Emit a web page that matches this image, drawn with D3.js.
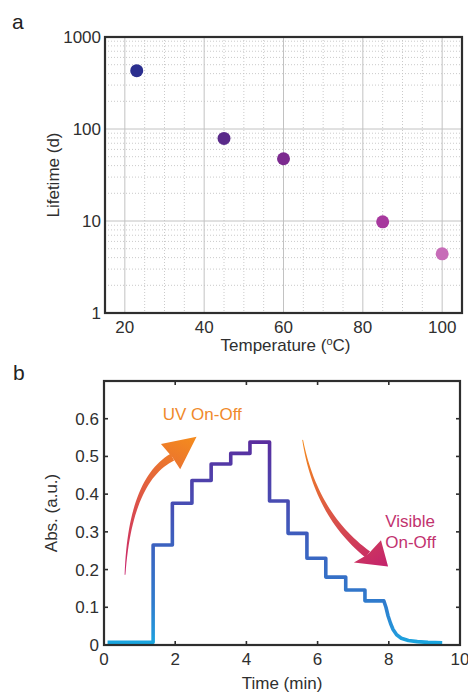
<!DOCTYPE html>
<html>
<head>
<meta charset="utf-8">
<script src="https://cdn.jsdelivr.net/npm/d3@7"></script>
<style>
  body { margin: 0; background: #fff; }
  svg { display: block; font-family: "Liberation Sans", Arial, sans-serif; }
</style>
</head>
<body>
<svg id="chart" width="468" height="694"></svg>
<script>
// panel a : lifetime vs temperature
const temps = [23, 45, 60, 85, 100];
const lifetimes = [430, 79, 47.5, 9.8, 4.4];
const dotColors = ["#2b2f8f", "#5a2a8a", "#7c2a8f", "#a7389e", "#c76cb8"];
const xTicksA = [20, 40, 60, 80, 100];
const yTicksA = [1, 10, 100, 1000];

// panel b : absorbance vs time
const timeMin = [0.1, 1.38, 1.38, 1.92, 1.92, 2.47, 2.47, 3.01, 3.01, 3.56, 3.56, 4.10, 4.10, 4.65,
  4.65, 5.17, 5.17, 5.70, 5.70, 6.23, 6.23, 6.79, 6.79, 7.33, 7.33, 7.86,
  7.92, 7.98, 8.05, 8.12, 8.22, 8.35, 8.55, 8.8, 9.1, 9.5];
const absorbance = [0.007, 0.007, 0.265, 0.265, 0.376, 0.376, 0.436, 0.436, 0.480, 0.480, 0.508, 0.508, 0.538, 0.538,
  0.382, 0.382, 0.296, 0.296, 0.230, 0.230, 0.180, 0.180, 0.146, 0.146, 0.117, 0.117,
  0.100, 0.077, 0.057, 0.041, 0.027, 0.018, 0.012, 0.009, 0.007, 0.006];
const xTicksB = [0, 2, 4, 6, 8, 10];
const yTicksB = [0, 0.1, 0.2, 0.3, 0.4, 0.5, 0.6];

const svg = d3.select("#chart");
const txt = "#2f2f2f";
const fs = 17;

// ---------- panel a ----------
const xA = d3.scaleLinear().domain([15, 105]).range([105, 462]);
const yA = d3.scaleLog().domain([1, 1000]).range([313, 37]);
const gA = svg.append("g");

// minor grid
const minorX = d3.range(25, 105, 5).filter(v => v % 20 !== 0);
const minorY = [];
[1, 10, 100].forEach(d => { for (let k = 2; k <= 9; k++) minorY.push(d * k); });
gA.selectAll(".mx").data(minorX).enter().append("line")
  .attr("x1", d => xA(d)).attr("x2", d => xA(d)).attr("y1", 37).attr("y2", 313)
  .attr("stroke", "#c4c4c4").attr("stroke-dasharray", "1,2").attr("stroke-width", 0.9);
gA.selectAll(".my").data(minorY).enter().append("line")
  .attr("x1", 105).attr("x2", 462).attr("y1", d => yA(d)).attr("y2", d => yA(d))
  .attr("stroke", "#c4c4c4").attr("stroke-dasharray", "1,2").attr("stroke-width", 0.9);
// major grid
gA.selectAll(".gx").data(xTicksA).enter().append("line")
  .attr("x1", d => xA(d)).attr("x2", d => xA(d)).attr("y1", 37).attr("y2", 313)
  .attr("stroke", "#c2c2c2").attr("stroke-width", 1);
gA.selectAll(".gy").data(yTicksA).enter().append("line")
  .attr("x1", 105).attr("x2", 462).attr("y1", d => yA(d)).attr("y2", d => yA(d))
  .attr("stroke", "#c2c2c2").attr("stroke-width", 1);

// points
gA.selectAll("circle").data(temps).enter().append("circle")
  .attr("cx", d => xA(d)).attr("cy", (d, i) => yA(lifetimes[i]))
  .attr("r", 6.5).attr("fill", (d, i) => dotColors[i]);

gA.append("rect").attr("x", 105).attr("y", 37).attr("width", 357).attr("height", 276)
  .attr("fill", "none").attr("stroke", "#2e2e2e").attr("stroke-width", 2.2);

// tick labels
gA.selectAll(".tx").data(xTicksA).enter().append("text")
  .attr("x", d => xA(d)).attr("y", 333).attr("text-anchor", "middle")
  .attr("font-size", fs).attr("fill", txt).text(d => d);
gA.selectAll(".ty").data(yTicksA).enter().append("text")
  .attr("x", 101).attr("y", d => yA(d) + 6).attr("text-anchor", "end")
  .attr("font-size", fs).attr("fill", txt).text(d => d);

const tl = gA.append("text").attr("x", xA(60) + 2).attr("y", 351).attr("text-anchor", "middle")
  .attr("font-size", fs).attr("fill", txt);
tl.append("tspan").text("Temperature (");
tl.append("tspan").attr("font-size", 11).attr("dy", -6).text("o");
tl.append("tspan").attr("dy", 6).text("C)");
gA.append("text").attr("transform", "translate(59," + ((37 + 313) / 2) + ") rotate(-90)")
  .attr("text-anchor", "middle").attr("font-size", fs).attr("fill", txt).text("Lifetime (d)");
svg.append("text").attr("x", 12).attr("y", 29).attr("font-size", 21).attr("fill", "#222").text("a");

// ---------- panel b ----------
const xB = d3.scaleLinear().domain([0, 10]).range([104, 460]);
const yB = d3.scaleLinear().domain([0, 0.7]).range([645, 381]);
const gB = svg.append("g");
const defs = svg.append("defs");

const lg = defs.append("linearGradient").attr("id", "lineGrad")
  .attr("gradientUnits", "userSpaceOnUse")
  .attr("x1", 0).attr("x2", 0).attr("y1", yB(0)).attr("y2", yB(0.55));
[["0", "#17a9e0"], ["0.06", "#2496da"], ["0.2", "#2f7ccd"], ["0.55", "#3f5bbc"], ["1", "#5b2b9d"]]
  .forEach(s => lg.append("stop").attr("offset", s[0]).attr("stop-color", s[1]));

function arrowGrad(id, c0, c1, p0, p1) {
  const g = defs.append("linearGradient").attr("id", id).attr("gradientUnits", "userSpaceOnUse")
    .attr("x1", p0[0]).attr("y1", p0[1]).attr("x2", p1[0]).attr("y2", p1[1]);
  g.append("stop").attr("offset", 0).attr("stop-color", c0);
  g.append("stop").attr("offset", 1).attr("stop-color", c1);
}

// ticks (inward, all sides)
const tk = 4;
const innerX = xTicksB.filter(v => v > 0 && v < 10);
const innerY = yTicksB.filter(v => v > 0);
innerX.forEach(v => {
  gB.append("line").attr("x1", xB(v)).attr("x2", xB(v)).attr("y1", 645).attr("y2", 645 - tk).attr("stroke", "#2e2e2e").attr("stroke-width", 1.6);
  gB.append("line").attr("x1", xB(v)).attr("x2", xB(v)).attr("y1", 381).attr("y2", 381 + tk).attr("stroke", "#2e2e2e").attr("stroke-width", 1.6);
});
innerY.forEach(v => {
  gB.append("line").attr("x1", 104).attr("x2", 104 + tk).attr("y1", yB(v)).attr("y2", yB(v)).attr("stroke", "#2e2e2e").attr("stroke-width", 1.6);
  gB.append("line").attr("x1", 460).attr("x2", 460 - tk).attr("y1", yB(v)).attr("y2", yB(v)).attr("stroke", "#2e2e2e").attr("stroke-width", 1.6);
});

// curve
const pts = timeMin.map((t, i) => [t, absorbance[i]]);
const line = d3.line().x(d => xB(d[0])).y(d => yB(d[1]));
gB.append("path").attr("d", line(pts)).attr("fill", "none")
  .attr("stroke", "url(#lineGrad)").attr("stroke-width", 3.6)
  .attr("stroke-linejoin", "round").attr("stroke-linecap", "butt");

// curved annotation arrows (anchors in data units)
function arrow(id, tail, ctrl, notch, tip, barbA, barbB, w0, w1) {
  const P = p => [xB(p[0]), yB(p[1])];
  const a = P(tail), c = P(ctrl), n = P(notch);
  const left = [], right = [];
  const N = 30;
  for (let i = 0; i <= N; i++) {
    const t = i / N, u = 1 - t;
    const x = u * u * a[0] + 2 * u * t * c[0] + t * t * n[0];
    const y = u * u * a[1] + 2 * u * t * c[1] + t * t * n[1];
    const dx = 2 * u * (c[0] - a[0]) + 2 * t * (n[0] - c[0]);
    const dy = 2 * u * (c[1] - a[1]) + 2 * t * (n[1] - c[1]);
    const L = Math.hypot(dx, dy);
    const w = w0 + (w1 - w0) * t;
    left.push([x - dy / L * w, y + dx / L * w]);
    right.push([x + dy / L * w, y - dx / L * w]);
  }
  const shaft = left.concat(right.reverse());
  gB.append("path").attr("d", "M" + shaft.map(p => p.join(",")).join("L") + "Z")
    .attr("fill", "url(#" + id + ")");
  const h = [P(tip), P(barbA), n, P(barbB)];
  gB.append("path").attr("d", "M" + h.map(p => p.join(",")).join("L") + "Z")
    .attr("fill", "url(#" + id + ")");
}

arrowGrad("uvGrad", "#c8246c", "#f48a1e", [xB(0.59), yB(0.19)], [xB(2.4), yB(0.55)]);
arrow("uvGrad", [0.59, 0.186], [0.73, 0.438], [1.92, 0.498], [2.6, 0.552], [1.6, 0.533], [2.14, 0.466], 0.4, 3.8);

arrowGrad("visGrad", "#f48a1e", "#c4246c", [xB(5.6), yB(0.54)], [xB(7.9), yB(0.21)]);
arrow("visGrad", [5.58, 0.544], [5.95, 0.345], [7.41, 0.240], [7.98, 0.208], [7.02, 0.219], [7.78, 0.278], 0.4, 3.8);

gB.append("text").attr("x", xB(1.65)).attr("y", 420).attr("font-size", fs)
  .attr("fill", "#f08a2c").text("UV On-Off");
gB.append("text").attr("x", xB(7.9)).attr("y", 527).attr("font-size", fs)
  .attr("fill", "#c2336f").text("Visible");
gB.append("text").attr("x", xB(7.9)).attr("y", 548).attr("font-size", fs)
  .attr("fill", "#c2336f").text("On-Off");

gB.append("rect").attr("x", 104).attr("y", 381).attr("width", 356).attr("height", 264)
  .attr("fill", "none").attr("stroke", "#2e2e2e").attr("stroke-width", 2.2);

gB.selectAll(".tx").data(xTicksB).enter().append("text")
  .attr("x", d => xB(d)).attr("y", 665).attr("text-anchor", "middle")
  .attr("font-size", fs).attr("fill", txt).text(d => d);
gB.selectAll(".ty").data(yTicksB).enter().append("text")
  .attr("x", 99).attr("y", d => yB(d) + 6).attr("text-anchor", "end")
  .attr("font-size", fs).attr("fill", txt).text(d => d === 0 ? "0" : d.toFixed(1));

gB.append("text").attr("x", (104 + 460) / 2).attr("y", 689).attr("text-anchor", "middle")
  .attr("font-size", fs).attr("fill", txt).text("Time (min)");
gB.append("text").attr("transform", "translate(57," + ((381 + 645) / 2) + ") rotate(-90)")
  .attr("text-anchor", "middle").attr("font-size", fs).attr("fill", txt).text("Abs. (a.u.)");
svg.append("text").attr("x", 13).attr("y", 380).attr("font-size", 21).attr("fill", "#222").text("b");
</script>
</body>
</html>
